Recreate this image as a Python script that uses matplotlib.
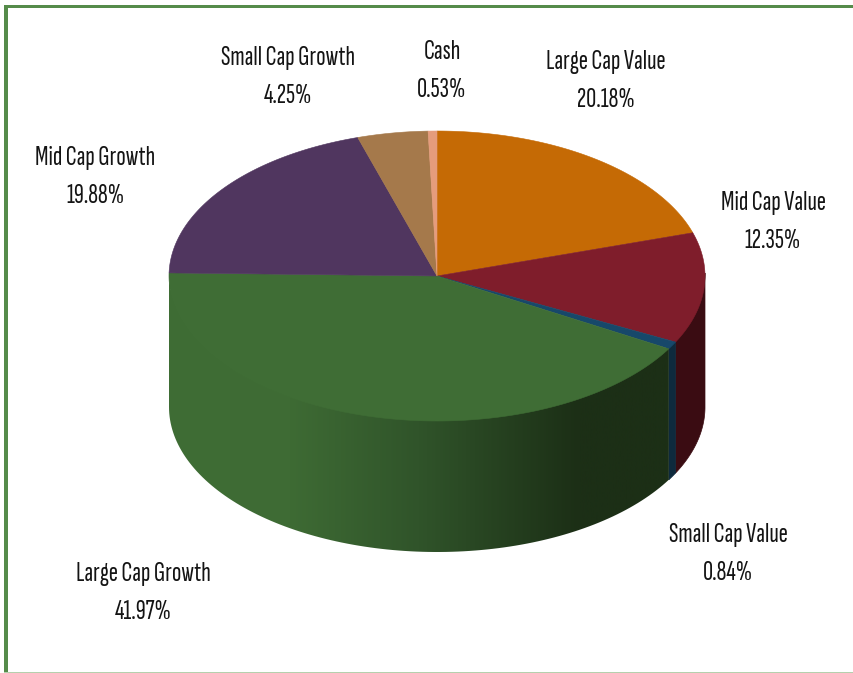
import numpy as np
import matplotlib
matplotlib.use("Agg")
import matplotlib.pyplot as plt
from matplotlib.patches import Polygon, Rectangle
from matplotlib.colors import LinearSegmentedColormap

# Portfolio allocation, clockwise from 12 o'clock
categories = ["Large Cap Value", "Mid Cap Value", "Small Cap Value",
              "Large Cap Growth", "Mid Cap Growth", "Small Cap Growth", "Cash"]
values = [20.18, 12.35, 0.84, 41.97, 19.88, 4.25, 0.53]
top_colors = ["#C56A05", "#7F1D2B", "#17486A", "#3F6D35", "#50365F", "#A5794B", "#E59C7C"]
side_colors = ["#6A3903", "#3A0C12", "#0E2A3D", "#3F6D35", "#2B1D33", "#5A4128", "#7D5A4A"]
label_xy = [(606, 81), (773, 222), (728, 554), (143, 593), (95, 177), (288, 77), (442, 71)]

W, H = 854, 673
CX, CY, RX, RY, DEPTH = 437, 276, 268, 145, 131
LABEL_FONT = ["Sofia Sans Extra Condensed", "Liberation Sans", "DejaVu Sans"]

fig = plt.figure(figsize=(W / 100, H / 100), dpi=100)
ax = fig.add_axes([0, 0, 1, 1])
ax.axis("off")

# Outer frame
frame = "#558B4A"
ax.add_patch(Rectangle((4, 4.5), W, 3.5, color=frame, lw=0))
ax.add_patch(Rectangle((4, 4.5), 3.8, H, color=frame, lw=0))
ax.add_patch(Rectangle((4, 671.5), W, 1.5, color="#B5D0AE", lw=0))


def rim(angle):
    """Point on the top ellipse for a clockwise angle in degrees from 12 o'clock."""
    t = np.radians(angle)
    return CX + RX * np.sin(t), CY - RY * np.cos(t)


# Light falls from the left: the big front wedge darkens towards the right
wall_cmap = LinearSegmentedColormap.from_list(
    "wall", [(0, "#3F6D35"), (0.24, "#3E6B34"), (0.5, "#30542A"), (0.82, "#1C2F16"), (1, "#1C2F16")])

cum = np.concatenate([[0], np.cumsum(values)]) / sum(values) * 360

# Side walls are only visible along the front half of the ellipse;
# each wall starts a little above the rim so the top face hides the join
for i, name in enumerate(categories):
    a0, a1 = max(cum[i], 90), min(cum[i + 1], 270)
    if a1 <= a0:
        continue
    t = np.linspace(a0, a1, 120)
    xs, ys = rim(t)
    pts = list(zip(xs, ys - 3)) + list(zip(xs[::-1], ys[::-1] + DEPTH))
    if name == "Large Cap Growth":
        wall = Polygon(pts, closed=True, fc="none", ec="none")
        ax.add_patch(wall)
        grad = ax.imshow(np.linspace(0, 1, 512)[None, :], cmap=wall_cmap, aspect="auto",
                         extent=(xs.min(), xs.max(), CY + RY + DEPTH, CY - RY), zorder=1)
        grad.set_clip_path(wall)
    else:
        ax.add_patch(Polygon(pts, closed=True, fc=side_colors[i], ec=side_colors[i], lw=0.5, zorder=1))

# Top faces
for i in range(len(values)):
    t = np.linspace(cum[i], cum[i + 1], max(int(cum[i + 1] - cum[i]) * 2, 4))
    xs, ys = rim(t)
    pts = [(CX, CY)] + list(zip(xs, ys))
    ax.add_patch(Polygon(pts, closed=True, fc=top_colors[i], ec=top_colors[i], lw=0.4, zorder=2))

# Data labels: name above, share below
for name, val, (lx, ly) in zip(categories, values, label_xy):
    for dy, line in ((-19, name), (19, f"{val:.2f}%")):
        ax.text(lx, ly + dy, line, ha="center", va="center", fontsize=20,
                color="#141414", family=LABEL_FONT, zorder=3)

ax.set_xlim(0, W)
ax.set_ylim(H, 0)
fig.savefig("out.png", dpi=100, facecolor="white")
